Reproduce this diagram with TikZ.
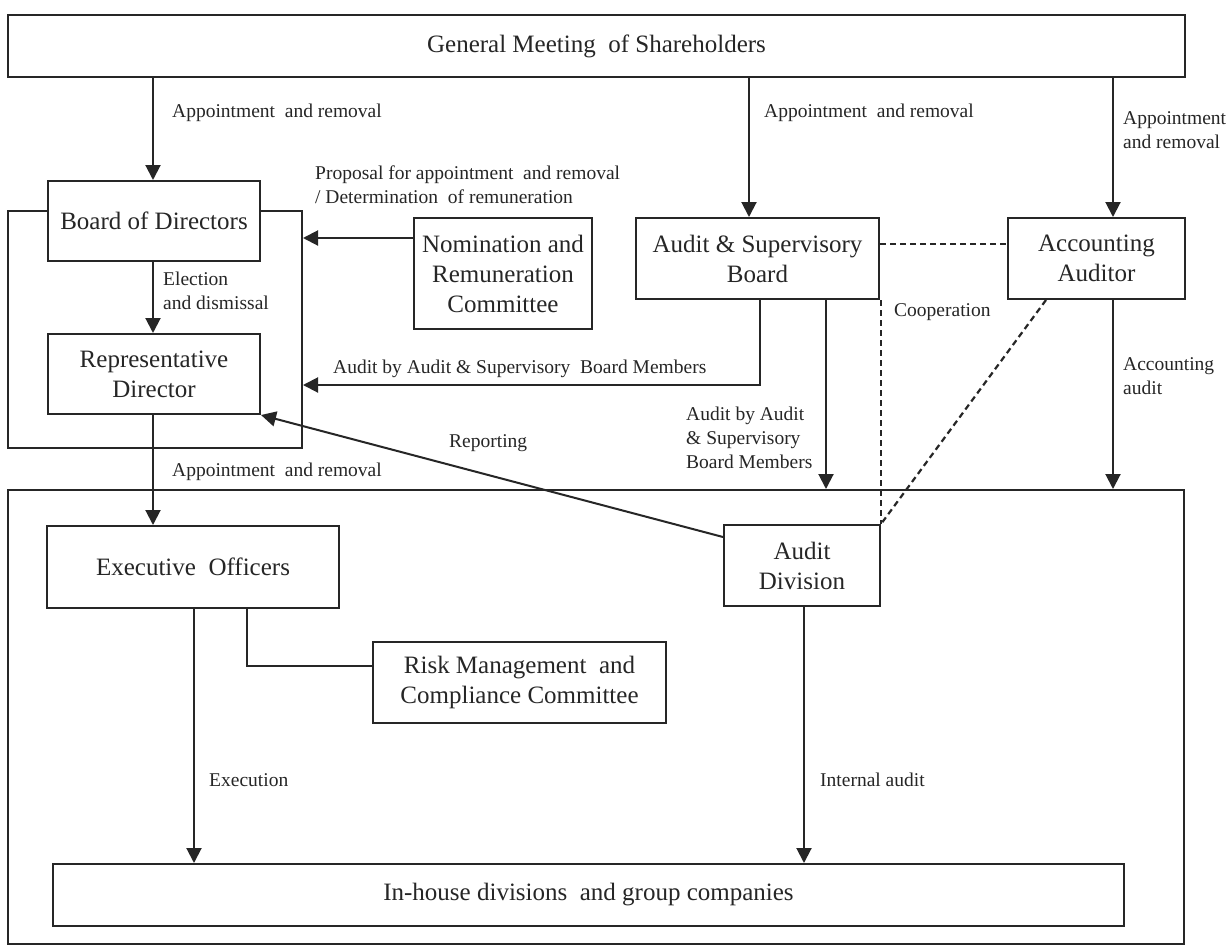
\documentclass[tikz,border=0pt]{standalone}
\usepackage{fontspec}
\setmainfont{Liberation Serif}
\usetikzlibrary{arrows.meta}
\begin{document}
\begin{tikzpicture}[x=1pt,y=-1pt,
  box/.style={draw=black!85, line width=2pt, fill=white, align=center, inner sep=0pt, text=black!85, font=\fontsize{25}{30}\selectfont},
  encl/.style={draw=black!85, line width=2pt, inner sep=0pt},
  lbl/.style={anchor=west, align=left, inner sep=0pt, text=black!85, font=\fontsize{19.5}{24}\selectfont},
  arr/.style={draw=black!85, line width=2pt, -{Triangle[width=15pt,length=15pt]}},
  ln/.style={draw=black!85, line width=2pt},
  dsh/.style={draw=black!85, line width=2.2pt, dash pattern=on 6pt off 4pt}]
\useasboundingbox (0,0) rectangle (1227,946);
\fill[white] (0,0) rectangle (1227,946);

% enclosures
\node[encl, minimum width=294pt, minimum height=237pt] (gov) at (155,329.5) {};
\node[encl, minimum width=1176pt, minimum height=454pt] (ops) at (596,717) {};

% boxes
\node[box, minimum width=1177pt, minimum height=62pt] (gm) at (596.5,46) {General Meeting\ \ of Shareholders};
\node[box, minimum width=212pt, minimum height=80pt] (bod) at (154,221) {Board of Directors};
\node[box, minimum width=212pt, minimum height=80pt] (rep) at (154,374) {Representative\\Director};
\node[box, minimum width=178pt, minimum height=111pt] (nom) at (503,273.5) {Nomination and\\Remuneration\\Committee};
\node[box, minimum width=243pt, minimum height=81pt] (asb) at (757.5,258.5) {Audit \& Supervisory\\Board};
\node[box, minimum width=177pt, minimum height=81pt] (aa) at (1096.5,258.5) {Accounting\\Auditor};
\node[box, minimum width=292pt, minimum height=82pt] (eo) at (193,567) {Executive\ \ Officers};
\node[box, minimum width=293pt, minimum height=81pt] (rm) at (519.5,682.5) {Risk Management\ \ and\\Compliance Committee};
\node[box, minimum width=156pt, minimum height=81pt] (ad) at (802,565.5) {Audit\\Division};
\node[box, minimum width=1071pt, minimum height=62pt] (ih) at (588.5,895) {In-house divisions\ \ and group companies};

% connectors
\draw[arr] (153,0 |- gm.south) -- (153,0 |- bod.north);
\draw[arr] (749,0 |- gm.south) -- (749,0 |- asb.north);
\draw[arr] (1113,0 |- gm.south) -- (1113,0 |- aa.north);
\draw[arr] (153,0 |- bod.south) -- (153,0 |- rep.north);
\draw[arr] (nom.west |- 0,238) -- (gov.east |- 0,238);
\draw[arr] (760,0 |- asb.south) -- (760,385) -- (gov.east |- 0,385);
\draw[arr] (826,0 |- asb.south) -- (826,0 |- ops.north);
\draw[arr] (1113,0 |- aa.south) -- (1113,0 |- ops.north);
\draw[dsh] (asb.east |- 0,244) -- (aa.west |- 0,244);
\draw[dsh] (ad.north east |- asb.south) -- (ad.north east);
\draw[dsh] ([xshift=39pt]aa.south west) -- (ad.north east);
\draw[arr] (153,0 |- rep.south) -- (153,0 |- eo.north);
\draw[arr] (ad.west |- 0,537) -- (rep.south east);
\draw[arr] (194,0 |- eo.south) -- (194,0 |- ih.north);
\draw[ln] (247,0 |- eo.south) -- (247,666) -- (rm.west |- 0,666);
\draw[arr] (804,0 |- ad.south) -- (804,0 |- ih.north);

% labels
\node[lbl] (l1) at (172,113) {Appointment\ \ and removal};
\node[lbl] (l2) at (764,113) {Appointment\ \ and removal};
\node[lbl] (l3) at (1123,130.5) {Appointment\\and removal};
\node[lbl] (l4) at (315,185) {Proposal for appointment\ \ and removal\\/ Determination\ \ of remuneration};
\node[lbl] (l5) at (163,291) {Election\\and dismissal};
\node[lbl] (l6) at (894,312) {Cooperation};
\node[lbl] (l7) at (333,369) {Audit by Audit \& Supervisory\ \ Board Members};
\node[lbl] (l8) at (1123,376.5) {Accounting\\audit};
\node[lbl] (l9) at (686,437.5) {Audit by Audit\\\& Supervisory\\Board Members};
\node[lbl] (l10) at (449,443) {Reporting};
\node[lbl] (l11) at (172,472) {Appointment\ \ and removal};
\node[lbl] (l12) at (209,780) {Execution};
\node[lbl] (l13) at (820,780) {Internal audit};
\end{tikzpicture}
\end{document}
